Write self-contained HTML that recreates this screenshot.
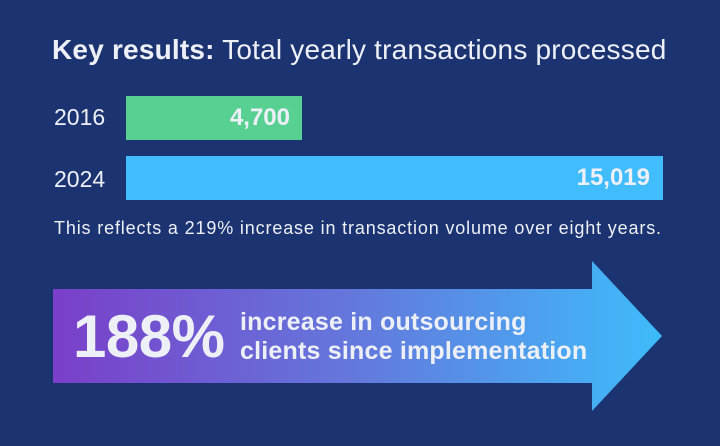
<!DOCTYPE html>
<html><head><style>
body{margin:0;width:720px;height:446px;background:#1b3370;overflow:hidden;font-family:"Liberation Sans",sans-serif;color:#eef0f8;position:relative}
.a{position:absolute;white-space:nowrap}
</style></head><body>
<div class="a" style="left:52px;top:34px;font-size:28px;letter-spacing:0.2px"><b>Key results:</b> Total yearly transactions processed</div>
<div class="a" style="left:54px;top:104px;font-size:23px">2016</div>
<div class="a" style="left:126px;top:96px;width:176px;height:44px;background:#57d092"></div>
<div class="a" style="left:126px;top:96px;width:164px;height:44px;line-height:44px;text-align:right;font-size:24px;font-weight:bold">4,700</div>
<div class="a" style="left:54px;top:166px;font-size:23px">2024</div>
<div class="a" style="left:126px;top:156px;width:537px;height:44px;background:#41bcfc"></div>
<div class="a" style="left:126px;top:156px;width:524px;height:44px;line-height:44px;text-align:right;font-size:24px;font-weight:bold">15,019</div>
<div class="a" style="left:54px;top:218px;font-size:18px;letter-spacing:0.85px">This reflects a 219% increase in transaction volume over eight years.</div>
<svg class="a" style="left:0;top:0" width="720" height="446">
<defs><linearGradient id="g" x1="53" x2="662" gradientUnits="userSpaceOnUse"><stop offset="0" stop-color="#7a3fc9"/><stop offset="0.5" stop-color="#6379dc"/><stop offset="1" stop-color="#3ebcfa"/></linearGradient></defs>
<polygon points="53,289 592,289 592,261 662,336 592,411 592,383 53,383" fill="url(#g)"/>
</svg>
<div class="a" style="left:73px;top:302px;font-size:60px;font-weight:bold;letter-spacing:-0.5px">188%</div>
<div class="a" style="left:240px;top:308px;font-size:25px;font-weight:bold;line-height:29px;letter-spacing:0.2px">increase in outsourcing<br>clients since implementation</div>
</body></html>
